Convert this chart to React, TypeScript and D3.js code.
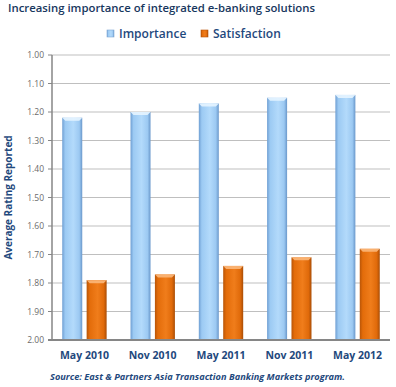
import React, { useEffect, useRef } from 'react'
import * as d3 from 'd3'

const categories = ['May 2010', 'Nov 2010', 'May 2011', 'Nov 2011', 'May 2012']
const importance = [1.22, 1.2, 1.17, 1.15, 1.14]
const satisfaction = [1.79, 1.77, 1.74, 1.71, 1.68]
const yTicks = [1.0, 1.1, 1.2, 1.3, 1.4, 1.5, 1.6, 1.7, 1.8, 1.9, 2.0]
const seriesNames = ['Importance', 'Satisfaction']

const W = 396
const H = 387
const navy = '#1F497D'

export default function App() {
  const ref = useRef<SVGSVGElement>(null)

  useEffect(() => {
    const svg = d3.select(ref.current)
    svg.selectAll('*').remove()

    const left = 52, right = 390, top = 55, bottom = 340
    const defs = svg.append('defs')

    // horizontal gradients for the cylinder-ish bars
    const blue = defs.append('linearGradient').attr('id', 'gBlue').attr('x1', 0).attr('x2', 1).attr('y1', 0).attr('y2', 0)
    blue.append('stop').attr('offset', '0%').attr('stop-color', '#6f9fd3')
    blue.append('stop').attr('offset', '15%').attr('stop-color', '#9ccaf3')
    blue.append('stop').attr('offset', '55%').attr('stop-color', '#b3dafb')
    blue.append('stop').attr('offset', '85%').attr('stop-color', '#9cc9f2')
    blue.append('stop').attr('offset', '100%').attr('stop-color', '#6a98cb')

    const orange = defs.append('linearGradient').attr('id', 'gOrange').attr('x1', 0).attr('x2', 1).attr('y1', 0).attr('y2', 0)
    orange.append('stop').attr('offset', '0%').attr('stop-color', '#b85508')
    orange.append('stop').attr('offset', '15%').attr('stop-color', '#e36c0a')
    orange.append('stop').attr('offset', '55%').attr('stop-color', '#f07d1b')
    orange.append('stop').attr('offset', '85%').attr('stop-color', '#e06a0a')
    orange.append('stop').attr('offset', '100%').attr('stop-color', '#a94d06')

    const y = d3.scaleLinear().domain([1, 2]).range([top, bottom])
    const x0 = d3.scaleBand().domain(categories).range([left, right]).paddingInner(0.35).paddingOuter(0.15)
    const x1 = d3.scaleBand().domain(seriesNames).range([0, x0.bandwidth()]).paddingInner(0.18)

    // title
    svg.append('text').attr('x', 8).attr('y', 12)
      .attr('font-family', 'Open Sans, sans-serif').attr('font-size', 11).attr('font-weight', 600)
      .attr('fill', '#17375E').attr('textLength', 307).attr('lengthAdjust', 'spacingAndGlyphs')
      .text('Increasing importance of integrated e-banking solutions')

    // legend
    const legend = [
      { name: seriesNames[0], x: 107, fill: 'url(#gBlue)', stroke: '#7fa7d3' },
      { name: seriesNames[1], x: 201, fill: 'url(#gOrange)', stroke: '#b85508' },
    ]
    legend.forEach(l => {
      svg.append('rect').attr('x', l.x).attr('y', 30).attr('width', 7).attr('height', 7)
        .attr('fill', l.fill).attr('stroke', l.stroke).attr('stroke-width', 0.6)
      svg.append('text').attr('x', l.x + 12).attr('y', 38)
        .attr('font-family', 'Open Sans, sans-serif').attr('font-size', 12).attr('font-weight', 600)
        .attr('fill', navy).text(l.name)
    })

    // gridlines
    svg.append('g').selectAll('line').data(yTicks.slice(0, -1)).enter().append('line')
      .attr('x1', left).attr('x2', right).attr('y1', d => y(d)).attr('y2', d => y(d))
      .attr('stroke', '#bfbfbf').attr('stroke-width', 1)

    // y tick marks and labels
    const ya = svg.append('g')
    ya.selectAll('line').data(yTicks).enter().append('line')
      .attr('x1', left - 4).attr('x2', left).attr('y1', d => y(d)).attr('y2', d => y(d))
      .attr('stroke', '#868686')
    ya.selectAll('text').data(yTicks).enter().append('text')
      .attr('x', left - 8).attr('y', d => y(d) + 3).attr('text-anchor', 'end')
      .attr('font-family', 'Open Sans, sans-serif').attr('font-size', 8.5).attr('fill', '#6b6b6b')
      .text(d => d3.format('.2f')(d))

    svg.append('text').attr('transform', `translate(12,${(top + bottom) / 2}) rotate(-90)`)
      .attr('text-anchor', 'middle').attr('font-family', 'Open Sans, sans-serif')
      .attr('font-size', 10).attr('font-weight', 700).attr('fill', navy)
      .text('Average Rating Reported')

    // bars (grow up from 2.00)
    const groups = svg.append('g').selectAll('g').data(categories).enter().append('g')
      .attr('transform', d => `translate(${x0(d)},0)`)
    const barData = (i: number) => [
      { s: seriesNames[0], v: importance[i], fill: 'url(#gBlue)', cap: '#e6f4ff' },
      { s: seriesNames[1], v: satisfaction[i], fill: 'url(#gOrange)', cap: '#fbb77a' },
    ]
    groups.each(function (_d, i) {
      const g = d3.select(this)
      barData(i).forEach(b => {
        const bx = x1(b.s)!
        const bw = x1.bandwidth()
        g.append('rect').attr('x', bx).attr('y', y(b.v)).attr('width', bw).attr('height', y(2) - y(b.v))
          .attr('fill', b.fill)
        g.append('path')
          .attr('d', `M${bx},${y(b.v)} L${bx + bw},${y(b.v)} L${bx + bw - 3},${y(b.v) + 3} L${bx + 3},${y(b.v) + 3} Z`)
          .attr('fill', b.cap).attr('opacity', 0.9)
      })
    })

    // axes lines
    svg.append('line').attr('x1', left).attr('x2', left).attr('y1', top).attr('y2', bottom)
      .attr('stroke', '#868686').attr('stroke-width', 1.5)
    svg.append('line').attr('x1', left - 4).attr('x2', right).attr('y1', bottom).attr('y2', bottom)
      .attr('stroke', '#868686').attr('stroke-width', 2)

    // x labels
    svg.append('g').selectAll('text').data(categories).enter().append('text')
      .attr('x', d => x0(d)! + x0.bandwidth() / 2).attr('y', 359).attr('text-anchor', 'middle')
      .attr('font-family', 'Open Sans, sans-serif').attr('font-size', 10.5).attr('font-weight', 700)
      .attr('fill', navy).text(d => d)

    svg.append('text').attr('x', 50).attr('y', 380)
      .attr('font-family', 'Open Sans, sans-serif').attr('font-size', 9).attr('font-weight', 700)
      .attr('font-style', 'italic').attr('fill', navy)
      .attr('textLength', 295).attr('lengthAdjust', 'spacingAndGlyphs')
      .text('Source: East & Partners Asia Transaction Banking Markets program.')
  }, [])

  return (
    <svg ref={ref} width={W} height={H} style={{ position: 'absolute', left: 0, top: 0, background: '#fff' }} />
  )
}
